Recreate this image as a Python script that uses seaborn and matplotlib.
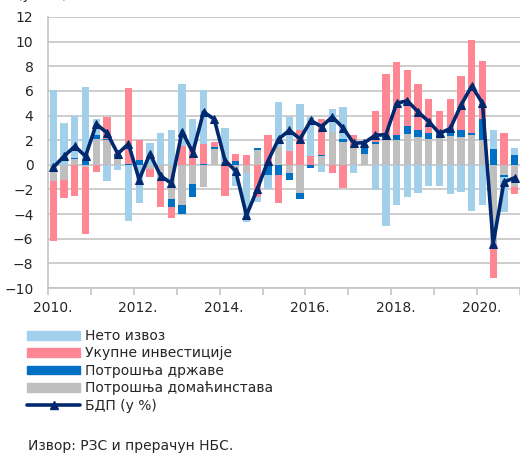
import numpy as np
import matplotlib
matplotlib.use("Agg")
import matplotlib.pyplot as plt
import seaborn as sns
import pandas as pd
from matplotlib.patches import Patch
from matplotlib.lines import Line2D

# ---- data (quarterly, 2010 Q1 - 2020 Q4), contributions in p.p. ----
year_labels = ["2010.", "2012.", "2014.", "2016.", "2018.", "2020."]

households = [-1.3, -1.2, 0.5, -0.2, 2.1, 2.0, 0.6, 0.0, 0.0, -0.3, -1.2, -2.8,
              -3.25, -1.55, -1.8, 1.3, 0.4, -0.5, -0.7, 1.2, -0.1, 1.45, -0.7, -2.3,
              0.0, 0.75, 2.65, 1.85, 1.45, 0.85, 1.7, 2.2, 2.0, 2.5, 2.25, 2.1,
              2.25, 2.3, 2.27, 2.45, 2.0, -6.45, -0.85, -1.8]
government = [-0.05, -0.05, 0.05, 0.3, 0.35, 0.1, 0.3, 0.05, 0.4, 0.0, 0.0, -0.6,
              -0.75, -1.1, 0.05, 0.15, 0.0, 0.3, 0.0, 0.15, -0.7, -0.85, -0.55, -0.45,
              -0.25, 0.08, 0.0, 0.25, 0.0, 0.5, 0.15, 0.1, 0.4, 0.65, 0.6, 0.5,
              0.4, 0.45, 0.55, 0.15, 1.7, 1.25, -0.1, 0.8]
investment = [-4.8, -1.45, -2.5, -5.4, -0.6, 1.75, 0.1, 6.15, 1.6, -0.7, -2.2, -0.9,
              1.5, 1.5, 1.6, 0.4, -2.5, 0.6, 0.8, -2.6, 2.45, -2.25, 1.1, 2.8,
              0.75, 2.85, -0.7, -1.9, 0.95, 0.0, 2.5, 5.1, 5.95, 4.55, 3.75, 2.75,
              1.72, 2.57, 4.35, 7.5, 4.75, -2.7, 2.55, -0.55]
net_exports = [6.1, 3.4, 3.45, 6.0, 1.3, -1.3, -0.4, -4.6, -3.1, 1.75, 2.6, 2.85,
               5.05, 2.25, 4.45, 0.0, 2.6, -1.2, -3.95, -0.45, -1.2, 3.65, 2.8, 2.1,
               3.1, -0.6, 1.9, 2.6, -0.7, 0.0, -2.05, -4.95, -3.3, -2.6, -2.3, -1.75,
               -1.75, -2.35, -2.2, -3.75, -3.25, 1.55, -2.9, 0.55]
gdp = [-0.2, 0.7, 1.5, 0.7, 3.3, 2.6, 0.9, 1.7, -1.2, 0.9, -0.9, -1.5,
       2.7, 1.0, 4.3, 3.7, 0.35, -0.5, -4.1, -2.0, 0.3, 2.1, 2.8, 2.1,
       3.6, 3.1, 3.9, 3.0, 1.75, 1.8, 2.4, 2.45, 5.0, 5.2, 4.3, 3.5,
       2.55, 2.95, 4.85, 6.4, 5.0, -6.4, -1.4, -1.05]

series_names = ["Нето извоз", "Укупне инвестиције", "Потрошња државе",
                "Потрошња домаћинстава"]
gdp_name = "БДП (у %)"
source_text = "Извор: РЗС и прерачун НБС."
unit_text = "(у п.п.)"

# ---- style ----
sns.set_theme(style="white")
plt.rcParams["font.family"] = ["DejaVu Sans"]
plt.rcParams["font.size"] = 10

C_NX = "#A2D0EB"
C_INV = "#FF8794"
C_GOV = "#0070C4"
C_HH = "#BFBFBF"
C_GDP = "#00296F"
GRID = "#C0C0C0"

fig = plt.figure(figsize=(5.2, 4.53), dpi=100)
ax = fig.add_axes([48 / 520, 1 - 288 / 453, 472 / 520, 271 / 453])

n = len(gdp)
x = np.arange(n)
pos = np.zeros(n)
neg = np.zeros(n)
for vals, col in [(households, C_HH), (government, C_GOV),
                  (investment, C_INV), (net_exports, C_NX)]:
    v = np.array(vals, dtype=float)
    bottom = np.where(v >= 0, pos, neg)
    ax.bar(x, v, width=0.68, bottom=bottom, color=col, linewidth=0, zorder=2)
    pos += np.where(v >= 0, v, 0)
    neg += np.where(v < 0, v, 0)

df = pd.DataFrame({"q": x, "gdp": gdp})
sns.lineplot(data=df, x="q", y="gdp", ax=ax, color=C_GDP, linewidth=2.6,
             marker="^", markersize=5.5, markeredgecolor=C_GDP, zorder=4)

ax.set_xlim(-0.5, n - 0.5)
ax.set_ylim(-10, 12)
ax.set_yticks(range(-10, 13, 2))
ax.yaxis.grid(True, color=GRID, linewidth=1.1)
ax.xaxis.grid(False)
ax.set_axisbelow(True)
ax.set_xlabel("")
ax.set_ylabel("")
for s in ["top", "right"]:
    ax.spines[s].set_visible(False)
for s in ["left", "bottom"]:
    ax.spines[s].set_color(GRID)
    ax.spines[s].set_linewidth(1.1)

ax.set_xticks(np.arange(-0.5, n, 4))
ax.set_xticklabels([])
ax.set_xticks(np.arange(-0.5, n, 8) + 0.4, minor=True)
ax.set_xticklabels(year_labels, minor=True)
ax.tick_params(axis="x", which="major", length=5, width=1.1, color=GRID, bottom=True)
ax.tick_params(axis="x", which="minor", length=0, pad=9, labelsize=10, bottom=True)
ax.tick_params(axis="y", length=0, pad=10.5, labelsize=10)

handles = [Patch(color=C_NX), Patch(color=C_INV), Patch(color=C_GOV),
           Patch(color=C_HH),
           Line2D([], [], color=C_GDP, linewidth=2.6, marker="^", markersize=5.5)]
fig.legend(handles, series_names + [gdp_name], loc="upper left",
           bbox_to_anchor=(27 / 520, 1 - 329 / 453), frameon=False, fontsize=10,
           handlelength=3.85, handleheight=0.6, handletextpad=0.36,
           labelspacing=0.25, borderpad=0, borderaxespad=0)

fig.text(28 / 520, 1 - 450 / 453, source_text, fontsize=10, va="baseline", ha="left")
fig.text(17 / 520, 1 + 1 / 453, unit_text, fontsize=10, va="baseline", ha="left")

fig.savefig("out.png", dpi=100)
